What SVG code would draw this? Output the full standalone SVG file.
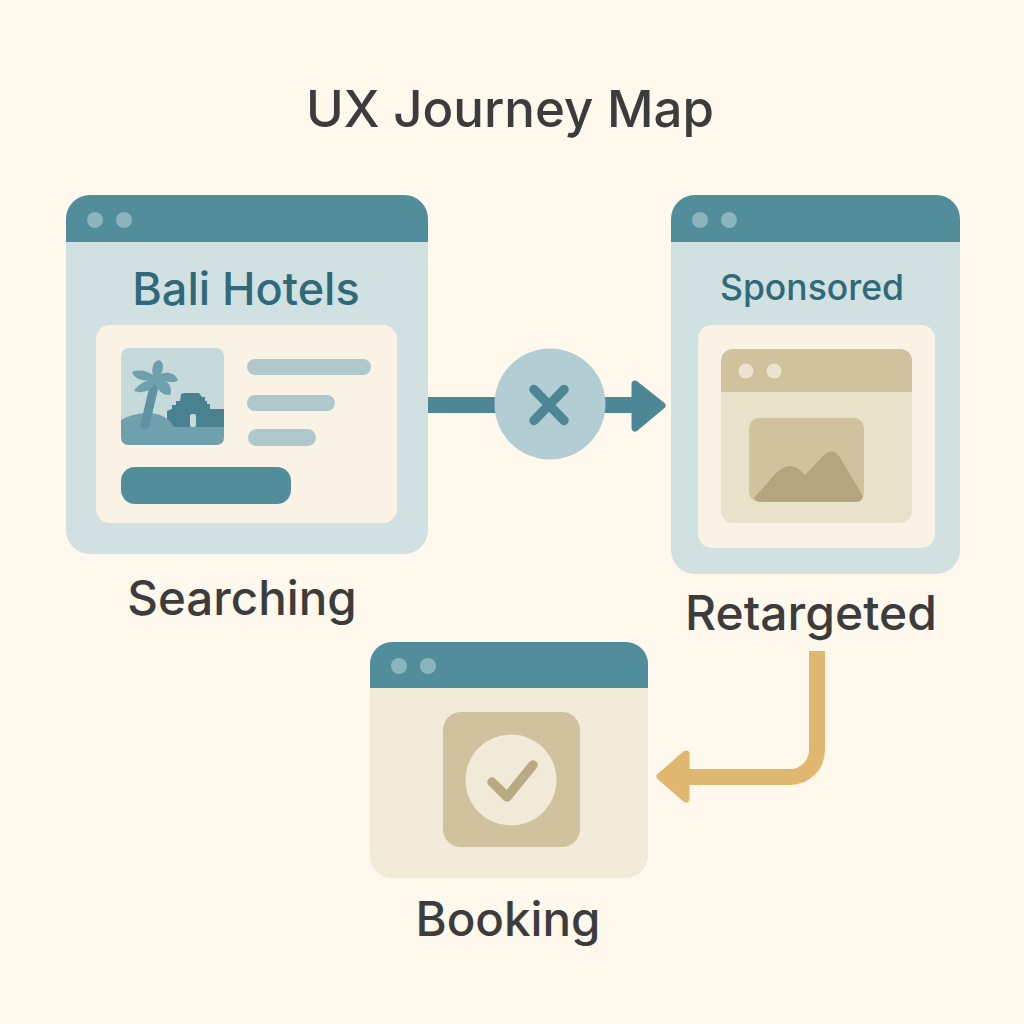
<svg xmlns="http://www.w3.org/2000/svg" width="1024" height="1024" viewBox="0 0 1024 1024">
<style>
text{font-family:"Inter","Noto Sans","Liberation Sans",sans-serif;font-weight:500;text-anchor:middle}
.lbl{fill:#3c3c3c}
.lbl2{font-size:47.500px;fill:#3c3c3c}
.head{fill:#2f6a7a}
.teal{fill:#528d9b}
.dot{fill:#8ab5bd}
.pale{fill:#d1e0e0}
.card{fill:#f9f2e5}
.line{fill:#afc8cc}
.tan{fill:#cfc29c}
.mount{fill:#b3a67f}
</style>
<rect width="1024" height="1024" fill="#fef8ed"/>
<text x="510" y="127" class="lbl" font-size="51">UX Journey Map</text>
<g id="connectors">
<rect x="428" y="397" width="70" height="16" fill="#4d8795"/>
<rect x="602" y="397" width="34" height="16" fill="#4d8795"/>
<path d="M635 384L662 405.500L635 428Z" fill="#4d8795" stroke="#4d8795" stroke-width="7" stroke-linejoin="round"/>
<path d="M817 651V750A27 27 0 0 1 790 777H685" fill="none" stroke="#e0b76e" stroke-width="16"/>
<path d="M686 754L660 776.500L686 799Z" fill="#e0b76e" stroke="#e0b76e" stroke-width="7" stroke-linejoin="round"/>
</g>
<g id="node-blocked">
<circle cx="550" cy="404" r="55.500" fill="#b2cdd3"/>
<path d="M534 389.500L564 420.500M564 389.500L534 420.500" stroke="#4d8795" stroke-width="9.500" stroke-linecap="round"/>
</g>
<g id="node-searching">
<rect x="66" y="195" width="362" height="359" rx="24" class="pale"/>
<path d="M66 242V219A24 24 0 0 1 90 195H404A24 24 0 0 1 428 219V242Z" class="teal"/>
<circle cx="95" cy="220" r="8" class="dot"/>
<circle cx="124" cy="220" r="8" class="dot"/>
<text x="246" y="305" class="head" font-size="45">Bali Hotels</text>
<rect x="96" y="325" width="301" height="198" rx="14" class="card"/>
<rect x="121" y="348" width="103" height="97" rx="8" fill="#c6dadc"/>
<path d="M167 427V411L172 409V405L176 405V401L180 401L181 394L184 393H199L202 397H205V401H207V404H210V409H224V427Z" fill="#4a8190"/>
<rect x="190" y="414" width="6" height="13" rx="2" fill="#c6dadc"/>
<path d="M121 420Q133 413 148 413Q166 413 174 427H224V437Q224 445 216 445H129Q121 445 121 437Z" fill="#6fa0ae"/>
<path d="M156 378L145 425" stroke="#5f93a2" stroke-width="9" stroke-linecap="round" fill="none"/>
<path d="M153 375C148 371 139 369 132 372C134 379 145 382 150 380C145 381 137 385 134 391C141 394 151 391 155 384C158 390 163 396 170 395C173 389 169 382 164 380C169 383 176 383 178 380C176 373 166 371 161 374C164 369 164 362 159 360C153 361 151 369 153 375Z" fill="#6fa0ae"/>
<rect x="247" y="359" width="124" height="16" rx="8" class="line"/>
<rect x="247" y="395" width="88" height="16" rx="8" class="line"/>
<rect x="248" y="429" width="68" height="17" rx="8.500" class="line"/>
<rect x="121" y="467" width="170" height="37" rx="14" class="teal"/>
<text x="242" y="615" class="lbl2">Searching</text>
</g>
<g id="node-retargeted">
<rect x="671" y="195" width="289" height="379" rx="24" class="pale"/>
<path d="M671 242V219A24 24 0 0 1 695 195H936A24 24 0 0 1 960 219V242Z" class="teal"/>
<circle cx="700" cy="220" r="8" class="dot"/>
<circle cx="729" cy="220" r="8" class="dot"/>
<text x="812" y="300" class="head" font-size="35.500">Sponsored</text>
<rect x="698" y="325" width="237" height="223" rx="14" class="card"/>
<rect x="721" y="349" width="191" height="174" rx="12" fill="#e9e1ca"/>
<path d="M721 392V361A12 12 0 0 1 733 349H900A12 12 0 0 1 912 361V392Z" class="tan"/>
<circle cx="746" cy="371" r="7.500" fill="#ebe3cf"/>
<circle cx="774" cy="371" r="7.500" fill="#ebe3cf"/>
<rect x="749" y="418" width="115" height="84" rx="10" class="tan"/>
<path d="M754 498L770 480Q779 468 788 466Q797 465 805 475L823 456Q832 447 839 456L863 496Q862 502 856 502H762Q756 502 754 498Z" class="mount"/>
<text x="811" y="630" class="lbl" font-size="48">Retargeted</text>
</g>
<g id="node-booking">
<rect x="370" y="642" width="278" height="236" rx="22" fill="#f3ebd9"/>
<path d="M370 688V664A22 22 0 0 1 392 642H626A22 22 0 0 1 648 664V688Z" class="teal"/>
<circle cx="399" cy="666" r="8" class="dot"/>
<circle cx="428" cy="666" r="8" class="dot"/>
<rect x="443" y="712" width="137" height="135" rx="18" class="tan"/>
<circle cx="511" cy="780" r="45.500" fill="#f1ead8"/>
<path d="M492 782L507 797L533 765" fill="none" stroke="#b8ab82" stroke-width="9.500" stroke-linecap="round" stroke-linejoin="round"/>
<text x="508" y="936" class="lbl2">Booking</text>
</g>
</svg>
